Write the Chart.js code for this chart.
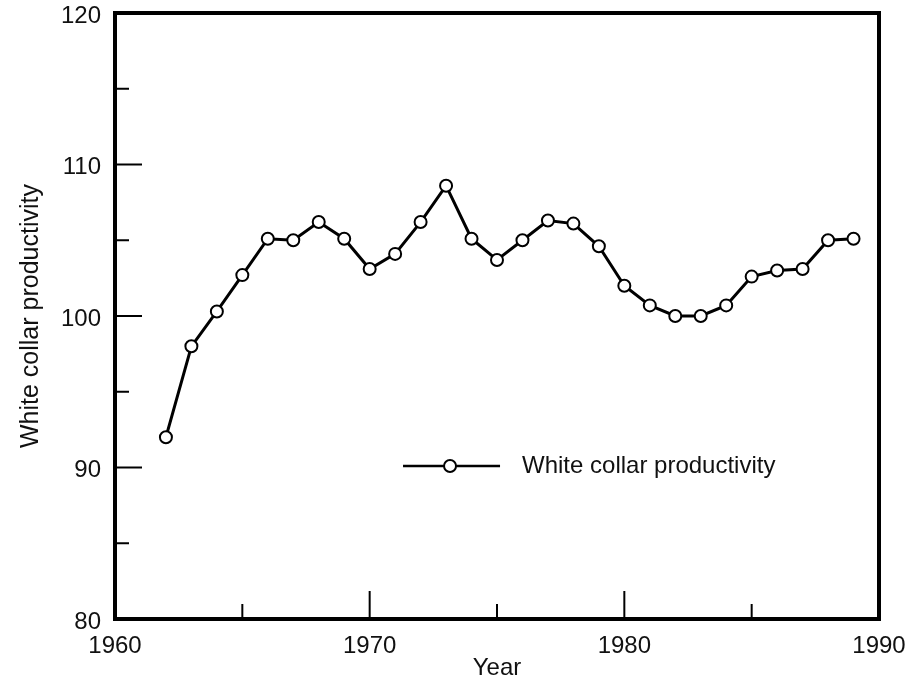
<!DOCTYPE html>
<html>
<head>
<meta charset="utf-8">
<script src="https://cdn.jsdelivr.net/npm/chart.js@4.4.1/dist/chart.umd.min.js"></script>
<style>
  html, body { margin: 0; padding: 0; background: #fff; }
  #wrap { width: 908px; height: 677px; }
</style>
</head>
<body>
<div id="wrap"><canvas id="myChart" width="908" height="677"></canvas></div>
<script>
const years = [1962, 1963, 1964, 1965, 1966, 1967, 1968, 1969, 1970, 1971, 1972, 1973, 1974, 1975,
    1976, 1977, 1978, 1979, 1980, 1981, 1982, 1983, 1984, 1985, 1986, 1987, 1988, 1989]
const productivity = [92.0, 98.0, 100.3, 102.7, 105.1, 105.0, 106.2, 105.1, 103.1, 104.1, 106.2, 108.6, 105.1, 103.7,
    105.0, 106.3, 106.1, 104.6, 102.0, 100.7, 100.0, 100.0, 100.7, 102.6, 103.0, 103.1, 105.0, 105.1]
const xTicks = [1960, 1965, 1970, 1975, 1980, 1985, 1990]
const yTicks = [80, 85, 90, 95, 100, 105, 110, 115, 120]
const xLabels = [1960, 1970, 1980, 1990]
const yLabels = [80, 90, 100, 110, 120]
const seriesName = 'White collar productivity'

const FONT = 'Liberation Sans, Arial, Helvetica, sans-serif'

const points = years.map((y, i) => ({ x: y, y: productivity[i] }))

// frame + inward ticks + legend box inside the plot
const framePlugin = {
    id: 'frame',
    afterDraw(chart) {
        const ctx = chart.ctx
        const a = chart.chartArea
        const xs = chart.scales.x
        const ys = chart.scales.y
        ctx.save()
        ctx.strokeStyle = '#000'
        ctx.lineCap = 'butt'

        ctx.lineWidth = 2
        xTicks.forEach(v => {
            const px = xs.getPixelForValue(v)
            const len = v % 10 === 0 ? 28 : 15
            ctx.beginPath()
            ctx.moveTo(px, a.bottom)
            ctx.lineTo(px, a.bottom - len)
            ctx.stroke()
        })
        yTicks.forEach(v => {
            const py = ys.getPixelForValue(v)
            const len = v % 10 === 0 ? 27 : 14
            ctx.beginPath()
            ctx.moveTo(a.left, py)
            ctx.lineTo(a.left + len, py)
            ctx.stroke()
        })

        ctx.lineWidth = 4
        ctx.strokeRect(a.left, a.top, a.right - a.left, a.bottom - a.top)

        // legend
        const lx = a.left + (a.right - a.left) * 0.377
        const ly = a.top + (a.bottom - a.top) * 0.7475
        ctx.lineWidth = 2.5
        ctx.beginPath()
        ctx.moveTo(lx, ly)
        ctx.lineTo(lx + 97, ly)
        ctx.stroke()
        ctx.beginPath()
        ctx.arc(lx + 47, ly, 6, 0, Math.PI * 2)
        ctx.fillStyle = '#fff'
        ctx.fill()
        ctx.lineWidth = 2
        ctx.stroke()
        ctx.fillStyle = '#111'
        ctx.font = '24px ' + FONT
        ctx.textBaseline = 'middle'
        ctx.fillText(seriesName, lx + 119, ly)
        ctx.restore()
    }
}

const ctx = document.getElementById('myChart').getContext('2d')
const myChart = new Chart(ctx, {
    type: 'line',
    data: {
        datasets: [{
            label: seriesName,
            data: points,
            borderColor: '#000',
            borderWidth: 3,
            tension: 0,
            pointRadius: 6,
            pointBorderWidth: 2,
            pointBackgroundColor: '#fff',
            pointBorderColor: '#000'
        }]
    },
    options: {
        responsive: false,
        animation: false,
        layout: { padding: { top: 13, right: 29, left: 0, bottom: 0 } },
        plugins: {
            legend: { display: false },
            tooltip: { enabled: false }
        },
        scales: {
            x: {
                type: 'linear',
                min: 1960,
                max: 1990,
                afterBuildTicks: s => { s.ticks = xLabels.map(v => ({ value: v })) },
                afterFit: s => {
                    s.height = 58
                    s.paddingLeft = 0
                    s.paddingRight = 0
                },
                grid: { display: false, drawTicks: false },
                border: { display: false },
                ticks: {
                    padding: 13,
                    color: '#111',
                    font: { family: FONT, size: 24 },
                    callback: v => String(v),
                    maxRotation: 0
                },
                title: {
                    display: true,
                    text: 'Year',
                    color: '#111',
                    font: { family: FONT, size: 24 },
                    padding: { top: 0, bottom: -6 }
                }
            },
            y: {
                min: 80,
                max: 120,
                afterBuildTicks: s => { s.ticks = yLabels.map(v => ({ value: v })) },
                afterFit: s => {
                    s.width = 115
                    s.paddingTop = 0
                    s.paddingBottom = 0
                },
                grid: { display: false, drawTicks: false },
                border: { display: false },
                ticks: {
                    padding: 14,
                    labelOffset: 3,
                    color: '#111',
                    font: { family: FONT, size: 24 }
                },
                title: {
                    display: true,
                    text: seriesName,
                    color: '#111',
                    font: { family: FONT, size: 25 },
                    padding: { top: 16, bottom: 0 }
                }
            }
        }
    },
    plugins: [framePlugin]
})
</script>
</body>
</html>
